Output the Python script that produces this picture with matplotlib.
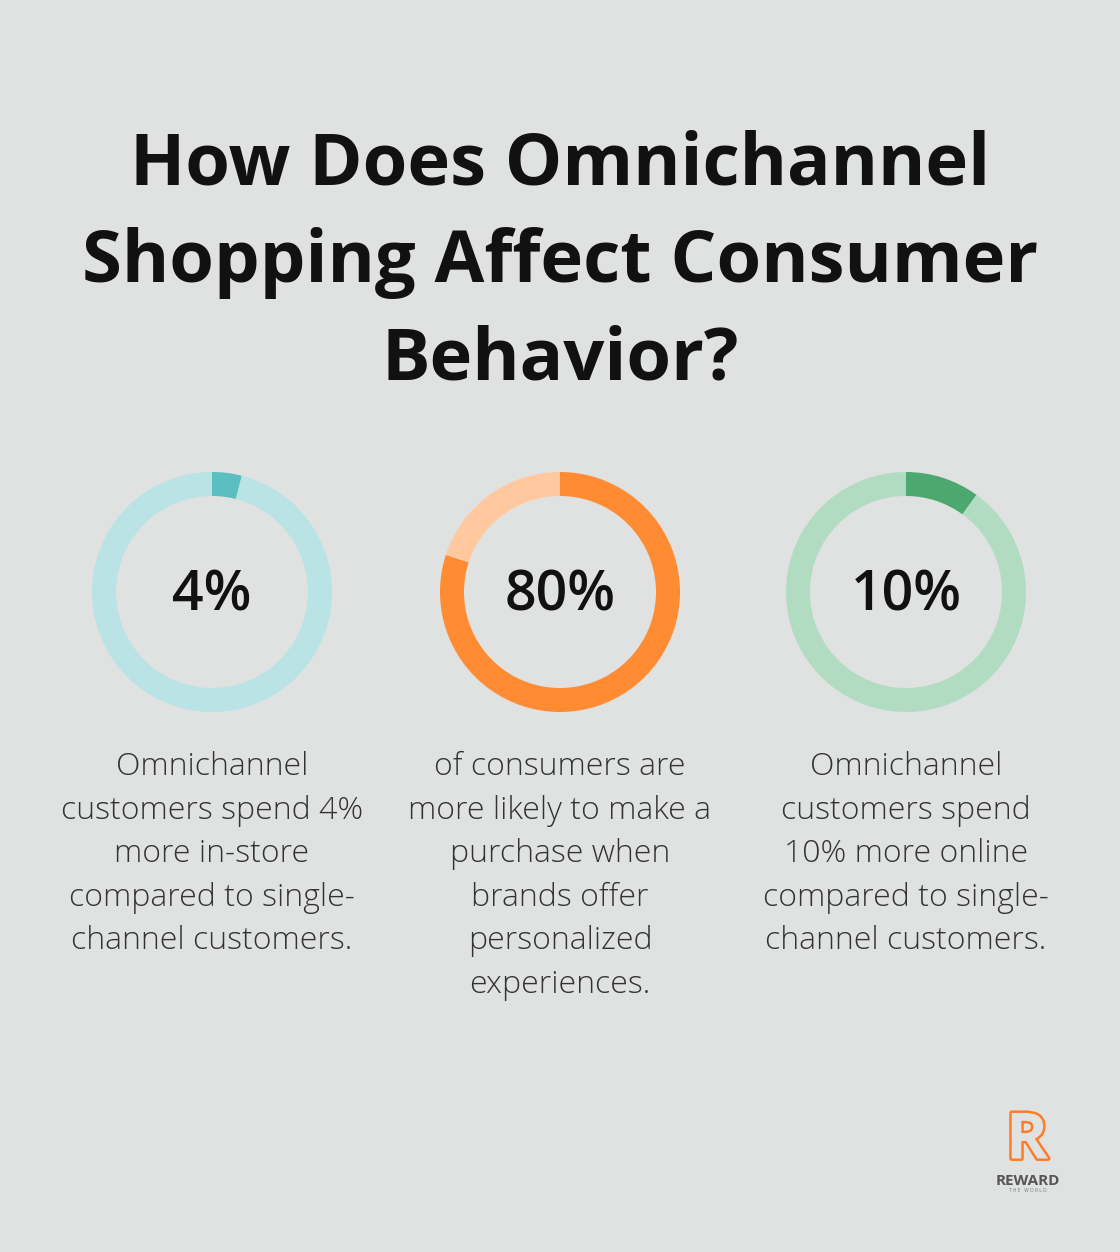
import matplotlib.pyplot as plt
import matplotlib.patheffects as pe

# data
values = [4, 80, 10]
labels = ["4%", "80%", "10%"]
captions = [
    "Omnichannel\ncustomers spend 4%\nmore in-store\ncompared to single-\nchannel customers.",
    "of consumers are\nmore likely to make a\npurchase when\nbrands offer\npersonalized\nexperiences.",
    "Omnichannel\ncustomers spend\n10% more online\ncompared to single-\nchannel customers.",
]
dark_colors = ["#5BBEC0", "#FF8C33", "#4DA870"]
light_colors = ["#B9E3E4", "#FFC89E", "#B2DCC2"]
title = "How Does Omnichannel\nShopping Affect Consumer\nBehavior?"

W, H = 1120, 1252
bg = "#E0E2E1"
fig = plt.figure(figsize=(W / 100, H / 100), dpi=100)
fig.patch.set_facecolor(bg)

fig.text(0.5, 1 - 263 / H, title, ha="center", va="center", fontsize=52,
         fontweight="bold", family=["Open Sans", "DejaVu Sans"], color="#111111",
         linespacing=1.46)

centers_x = [212, 560, 906]
cy = 592
r = 120
for i in range(3):
    ax = fig.add_axes([(centers_x[i] - r) / W, (H - cy - r) / H, 2 * r / W, 2 * r / H])
    ax.pie([values[i], 100 - values[i]], colors=[dark_colors[i], light_colors[i]],
           startangle=90, counterclock=False, radius=1,
           wedgeprops=dict(width=0.2, linewidth=0))
    ax.set_xlim(-1, 1)
    ax.set_ylim(-1, 1)
    ax.set_aspect("equal")
    ax.axis("off")
    fig.text(centers_x[i] / W, 1 - (cy + 4) / H, labels[i], ha="center", va="center",
             fontsize=40, fontweight="semibold", family=["Open Sans", "DejaVu Sans"],
             color="#111111")
    fig.text(centers_x[i] / W, 1 - 751 / H, captions[i], ha="center", va="top",
             fontsize=23, fontweight="light", family=["Open Sans", "DejaVu Sans"],
             color="#333333", linespacing=1.48)

# logo
fig.text(1027 / W, 1 - 1142 / H, "R", ha="center", va="center", fontsize=46,
         fontweight="bold", family=["Open Sans", "DejaVu Sans"], color=bg,
         path_effects=[pe.Stroke(linewidth=3.5, foreground="#FF7A21"), pe.Normal()])
fig.text(1028 / W, 1 - 1181 / H, "REWARD", ha="center", va="center", fontsize=11,
         fontweight="bold", family=["Open Sans", "DejaVu Sans"], color="#555555")
fig.text(1028 / W, 1 - 1191 / H, "T H E   W O R L D", ha="center", va="center",
         fontsize=3.5, family=["Open Sans", "DejaVu Sans"], color="#777777")

fig.savefig("out.png", dpi=100, facecolor=bg)
